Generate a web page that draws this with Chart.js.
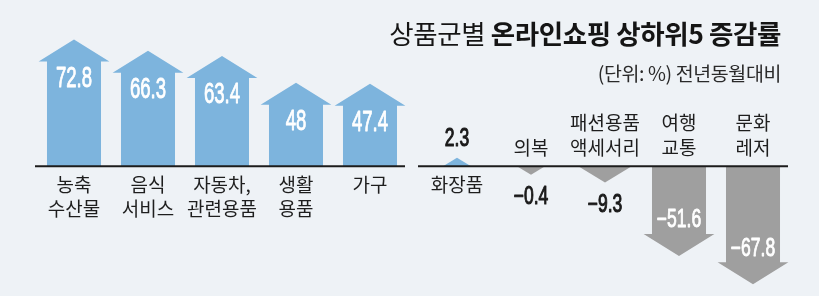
<!DOCTYPE html>
<html>
<head>
<meta charset="utf-8">
<script src="https://cdn.jsdelivr.net/npm/chart.js@4"></script>
<style>
  html, body { margin:0; padding:0; background:#eef2f6; }
  body { width:819px; height:296px; position:relative; overflow:hidden; font-family:"Noto Sans CJK KR", sans-serif; }
  #cl { position:absolute; left:0; top:0; }
  #cr { position:absolute; left:410px; top:0; }
  #title { position:absolute; right:38px; top:19px; font-size:26.5px; line-height:27px; color:#151515; white-space:nowrap; letter-spacing:-0.4px; }
  #title b { font-weight:700; }
  #sub { position:absolute; right:38px; top:63px; font-size:19.5px; line-height:20px; color:#2a2a2a; white-space:nowrap; letter-spacing:-0.4px; }
</style>
</head>
<body>
<canvas id="cl" width="410" height="296"></canvas>
<canvas id="cr" width="409" height="296"></canvas>
<div id="title">상품군별 <b>온라인쇼핑 상하위5 증감률</b></div>
<div id="sub">(단위: %) 전년동월대비</div>
<script>
const leftCats = [['농축','수산물'],['음식','서비스'],['자동차,','관련용품'],['생활','용품'],['가구']];
const leftVals = [72.8, 66.3, 63.4, 48, 47.4];
const leftLabels = ['72.8','66.3','63.4','48','47.4'];
const rightCats = [['화장품'],['의복'],['패션용품','액세서리'],['여행','교통'],['문화','레저']];
const rightVals = [2.3, -0.4, -9.3, -51.6, -67.8];
const rightLabels = ['2.3','−0.4','−9.3','−51.6','−67.8'];
const yMin = -70, yMax = 80;

const BLUE = '#7db4dd', GRAY = '#9f9f9f';
const NUMFONT = '"Liberation Sans", sans-serif';
const KRFONT = '"Noto Sans CJK KR", sans-serif';

function condText(ctx, txt, x, y, size, sx, color, baseline, strokeW) {
  ctx.save();
  ctx.font = 'normal ' + size + 'px ' + NUMFONT;
  ctx.fillStyle = color;
  ctx.strokeStyle = color;
  ctx.lineWidth = strokeW;
  ctx.lineJoin = 'round';
  ctx.textAlign = 'center';
  ctx.textBaseline = baseline;
  ctx.translate(x, y);
  ctx.scale(sx, 1);
  ctx.fillText(txt, 0, 0);
  ctx.strokeText(txt, 0, 0);
  ctx.restore();
}

function makeChart(id, cats, vals, labels, opts) {
  const arrowPlugin = {
    id: 'arrows',
    afterDatasetsDraw(chart) {
      const ctx = chart.ctx;
      const ca = chart.chartArea;
      const base = chart.scales.y.getPixelForValue(0);
      const meta = chart.getDatasetMeta(0);
      const headH = 22, minLen = 8.5;
      meta.data.forEach((bar, i) => {
        const v = vals[i];
        const dir = v >= 0 ? -1 : 1;
        const x = bar.x;
        let tip = bar.y;
        let len = Math.abs(tip - base);
        if (len < minLen) { len = minLen; tip = base + dir * minLen; }
        const hw = bar.width / 2;
        const headHW = hw * 1.31;
        const big = len > headH + 4;
        const hb = tip - dir * headH;
        ctx.save();
        ctx.fillStyle = v >= 0 ? BLUE : GRAY;
        ctx.beginPath();
        if (big) {
          ctx.moveTo(x - hw, base);
          ctx.lineTo(x - hw, hb);
          ctx.lineTo(x - headHW, hb);
          ctx.lineTo(x, tip);
          ctx.lineTo(x + headHW, hb);
          ctx.lineTo(x + hw, hb);
          ctx.lineTo(x + hw, base);
        } else {
          const w = Math.min(headHW, len * 1.65);
          ctx.moveTo(x - w, base);
          ctx.lineTo(x, tip);
          ctx.lineTo(x + w, base);
        }
        ctx.closePath();
        ctx.fill();
        ctx.restore();
        // value label
        if (big) {
          if (v >= 0) condText(ctx, labels[i], x, hb + 3, opts.bigSize, opts.sx, '#ffffff', 'top', 0.9);
          else condText(ctx, labels[i], x, hb - 1, opts.bigSize, opts.sx, '#ffffff', 'bottom', 0.9);
        } else {
          if (v >= 0) condText(ctx, labels[i], x, tip - 6, 25, 0.7, '#1a1a1a', 'bottom', 1.1);
          else condText(ctx, labels[i], x, tip + 10, 25, 0.7, '#1a1a1a', 'top', 1.1);
        }
        // category label
        ctx.save();
        ctx.font = '19px ' + KRFONT;
        ctx.fillStyle = '#1e1e1e';
        ctx.textAlign = 'center';
        ctx.textBaseline = 'middle';
        const lines = cats[i];
        if (v >= 0) {
          lines.forEach((t, k) => ctx.fillText(t, x, base + 19 + k * 24));
        } else {
          const n = lines.length;
          lines.forEach((t, k) => ctx.fillText(t, x, base - 18 - (n - 1 - k) * 25));
        }
        ctx.restore();
      });
      // axis line
      ctx.save();
      ctx.strokeStyle = '#1c1c1c';
      ctx.lineWidth = 2;
      ctx.beginPath();
      ctx.moveTo(ca.left + opts.lineL, base);
      ctx.lineTo(ca.right + opts.lineR, base);
      ctx.stroke();
      ctx.restore();
    }
  };
  return new Chart(document.getElementById(id), {
    type: 'bar',
    data: {
      labels: cats.map(c => c.join(' ')),
      datasets: [{ data: vals, backgroundColor: 'rgba(0,0,0,0)', borderWidth: 0,
                   barPercentage: 0.73, categoryPercentage: 1 }]
    },
    options: {
      responsive: false,
      animation: false,
      layout: { padding: opts.padding },
      plugins: { legend: { display: false }, tooltip: { enabled: false }, title: { display: false } },
      scales: {
        x: { display: false },
        y: { display: false, min: yMin, max: yMax }
      }
    },
    plugins: [arrowPlugin]
  });
}

makeChart('cl', leftCats, leftVals, leftLabels,
  { padding: { left: 37, right: 3, top: 27, bottom: 8 }, bigSize: 29, sx: 0.64, lineL: -2, lineR: -2 });
makeChart('cr', rightCats, rightVals, rightLabels,
  { padding: { left: 10, right: 29, top: 27, bottom: 8 }, bigSize: 25, sx: 0.7, lineL: -2, lineR: -2 });
</script>
</body>
</html>
